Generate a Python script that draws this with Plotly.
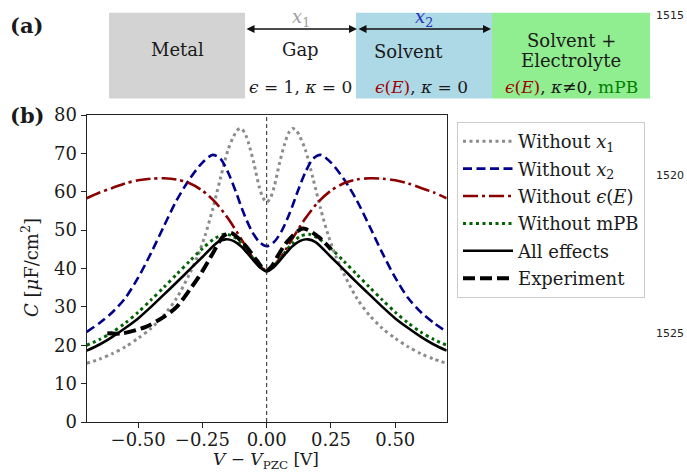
import plotly.graph_objects as go

W, H = 687, 472

# ---------------- data ----------------
v_wo_x1 = [-0.70, -0.65, -0.60, -0.55, -0.50, -0.45, -0.40, -0.35, -0.30, -0.27, -0.24, -0.21, -0.18, -0.15, -0.13, -0.115, -0.10, -0.085, -0.07, -0.05, -0.03, -0.015, 0.00,
           0.015, 0.03, 0.05, 0.07, 0.085, 0.10, 0.115, 0.13, 0.15, 0.18, 0.21, 0.24, 0.27, 0.30, 0.35, 0.40, 0.45, 0.50, 0.55, 0.60, 0.65, 0.70]
c_wo_x1 = [15.3, 16.4, 17.8, 19.6, 21.8, 24.4, 27.8, 32.3, 38.6, 43.0, 48.5, 55.5, 63.5, 71.0, 74.2, 76.0, 76.5, 75.3, 72.5, 67.5, 61.5, 58.5, 57.3,
           58.5, 61.5, 67.5, 72.5, 75.3, 76.5, 76.0, 74.2, 71.0, 63.5, 55.5, 48.5, 43.0, 38.6, 32.3, 27.8, 24.4, 21.8, 19.6, 17.8, 16.4, 15.3]

v_wo_x2 = [-0.70, -0.65, -0.60, -0.55, -0.50, -0.45, -0.40, -0.35, -0.30, -0.25, -0.21, -0.18, -0.15, -0.12, -0.09, -0.06, -0.03, 0.00,
           0.03, 0.06, 0.09, 0.12, 0.15, 0.18, 0.21, 0.25, 0.30, 0.35, 0.40, 0.45, 0.50, 0.55, 0.60, 0.65, 0.70]
c_wo_x2 = [23.5, 25.8, 28.6, 32.3, 37.6, 44.0, 51.0, 57.8, 63.3, 67.6, 69.6, 68.6, 65.0, 60.0, 54.5, 50.0, 47.0, 45.8,
           47.0, 50.0, 54.5, 60.0, 65.0, 68.6, 69.6, 67.6, 63.3, 57.8, 51.0, 44.0, 37.6, 32.3, 28.6, 25.8, 23.5]

v_wo_eps = [-0.70, -0.65, -0.60, -0.55, -0.50, -0.45, -0.40, -0.35, -0.30, -0.25, -0.20, -0.15, -0.10, -0.075, -0.05, -0.02, 0.00,
            0.02, 0.05, 0.075, 0.10, 0.15, 0.20, 0.25, 0.30, 0.35, 0.40, 0.45, 0.50, 0.55, 0.60, 0.65, 0.70]
c_wo_eps = [58.3, 59.8, 61.0, 62.2, 63.0, 63.4, 63.5, 63.2, 62.2, 60.3, 57.3, 53.0, 47.8, 45.0, 42.5, 40.2, 39.6,
            40.2, 42.5, 45.0, 47.8, 53.0, 57.3, 60.3, 62.2, 63.2, 63.5, 63.4, 63.0, 62.2, 61.0, 59.8, 58.3]

v_wo_mpb = [-0.70, -0.65, -0.60, -0.55, -0.50, -0.45, -0.40, -0.35, -0.30, -0.25, -0.20, -0.165, -0.13, -0.10, -0.075, -0.05, -0.025, 0.00,
            0.025, 0.05, 0.075, 0.10, 0.13, 0.165, 0.20, 0.25, 0.30, 0.35, 0.40, 0.45, 0.50, 0.55, 0.60, 0.65, 0.70]
c_wo_mpb = [20.0, 21.5, 23.4, 25.8, 28.6, 31.8, 35.1, 38.5, 41.9, 45.2, 47.9, 48.9, 48.4, 46.6, 44.6, 42.4, 40.5, 39.5,
            40.5, 42.4, 44.6, 46.6, 48.4, 48.9, 47.9, 45.2, 41.9, 38.5, 35.1, 31.8, 28.6, 25.8, 23.4, 21.5, 20.0]

v_all = [-0.70, -0.65, -0.60, -0.55, -0.50, -0.45, -0.40, -0.35, -0.30, -0.25, -0.19, -0.16, -0.13, -0.10, -0.075, -0.05, -0.025, 0.00,
         0.025, 0.05, 0.075, 0.10, 0.13, 0.16, 0.19, 0.25, 0.30, 0.35, 0.40, 0.45, 0.50, 0.55, 0.60, 0.65, 0.70]
c_all = [18.6, 20.2, 22.2, 24.5, 27.0, 30.0, 33.2, 36.4, 39.7, 43.0, 46.9, 47.6, 47.2, 45.8, 44.0, 42.0, 40.2, 39.2,
         40.2, 42.0, 44.0, 45.8, 47.2, 47.6, 46.9, 43.0, 39.7, 36.4, 33.2, 30.0, 27.0, 24.5, 22.2, 20.2, 18.6]

v_exp = [-0.62, -0.56, -0.47, -0.40, -0.35, -0.30, -0.25, -0.21, -0.17, -0.14, -0.09, -0.04, -0.02, 0.00, 0.02, 0.045, 0.08, 0.14, 0.20, 0.25]
c_exp = [23.1, 23.1, 24.8, 27.4, 30.0, 34.4, 39.3, 43.9, 48.3, 49.3, 46.5, 42.2, 40.4, 39.5, 40.6, 43.5, 47.0, 50.4, 48.3, 45.0]

x_ticks = [-0.5, -0.25, 0.0, 0.25, 0.5]
x_ticktext = ["\u22120.50", "\u22120.25", "0.00", "0.25", "0.50"]
y_ticks = [0, 10, 20, 30, 40, 50, 60, 70, 80]

series = [
    ("Without <i>x</i><sub>1</sub>", v_wo_x1, c_wo_x1, "#8c8c8c", 3.0, "3px,3.5px"),
    ("Without <i>x</i><sub>2</sub>", v_wo_x2, c_wo_x2, "#00008b", 2.6, "9px,4.5px"),
    ("Without <i>ϵ</i>(<i>E</i>)", v_wo_eps, c_wo_eps, "#8b0000", 2.6, "15px,4px,3px,4px"),
    ("Without mPB", v_wo_mpb, c_wo_mpb, "#006400", 3.0, "3px,3.5px"),
    ("All effects", v_all, c_all, "#000000", 2.6, "solid"),
    ("Experiment", v_exp, c_exp, "#000000", 4.0, "12px,5px"),
]

SERIF = "DejaVu Serif"

fig = go.Figure()
for i, (name, xs, ys, col, lw, dash) in enumerate(series):
    fig.add_trace(go.Scatter(
        x=xs, y=ys, mode="lines", name=name, legendgroup=f"g{i}",
        line=dict(color=col, width=lw, dash=dash, shape="spline", smoothing=0.8),
    ))

def px_x(px):
    return px / W

def px_y(py):
    return 1 - py / H

x0d, x1d = 86.7 / W, 446.7 / W
y0d, y1d = (H - 422) / H, (H - 115) / H

axis_common = dict(showgrid=False, zeroline=False, showline=True, linecolor="#222", linewidth=1.3,
                   mirror=True, ticks="outside", ticklen=5, tickwidth=1.2, tickcolor="#222",
                   tickfont=dict(family=SERIF, size=18), automargin=False)

fig.update_layout(
    width=W, height=H,
    margin=dict(l=0, r=0, t=0, b=0, autoexpand=False),
    paper_bgcolor="white", plot_bgcolor="white",
    font=dict(family=SERIF, size=18, color="#1a1a1a"),
    xaxis=dict(domain=[x0d, x1d], range=[-0.7, 0.7], tickvals=x_ticks, ticktext=x_ticktext,
               ticklabelstandoff=-4, **axis_common),
    yaxis=dict(domain=[y0d, y1d], range=[0, 80], tickvals=y_ticks, **axis_common),
    legend=dict(x=px_x(457), y=px_y(122), xanchor="left", yanchor="top",
                bgcolor="white", bordercolor="#cccccc", borderwidth=1, itemwidth=50,
                font=dict(family=SERIF, size=18), tracegroupgap=1),
    showlegend=True,
)

# vertical dashed line at V = 0
fig.add_shape(type="line", xref="x", yref="paper", x0=0, x1=0, y0=y0d, y1=y1d,
              line=dict(color="#222", width=1, dash="4px,3px"))

# panel (a) boxes
boxes = [(109, 245, "#d3d3d3"), (356, 492, "#add8e6"), (492, 650, "#90ee90")]
for a, b, col in boxes:
    fig.add_shape(type="rect", xref="paper", yref="paper",
                  x0=px_x(a), x1=px_x(b), y0=px_y(98.5), y1=px_y(12.7),
                  fillcolor=col, line=dict(width=0), layer="below")

# arrows
for a, b in [(245, 357), (357, 491)]:
    fig.add_annotation(xref="paper", yref="paper", x=px_x(b), y=px_y(29),
                       ax=-(b - a), ay=0, axref="pixel", ayref="pixel",
                       showarrow=True, arrowhead=2, startarrowhead=2, arrowside="end+start",
                       arrowwidth=1.6, arrowsize=1, startarrowsize=1, arrowcolor="#111", text="")

def txt(x, y, s, size=18, color="#1a1a1a", family=SERIF, xanchor="center"):
    fig.add_annotation(xref="paper", yref="paper", x=px_x(x), y=px_y(y), text=s,
                       showarrow=False, xanchor=xanchor, yanchor="middle",
                       font=dict(family=family, size=size, color=color))

txt(301, 18, "<i>x</i><sub>1</sub>", color="#a0a0a0")
txt(424, 18, "<i>x</i><sub>2</sub>", color="#2233bb")
txt(177, 50, "Metal")
txt(300, 50, "Gap")
txt(408, 51, "Solvent")
txt(571, 40, "Solvent +")
txt(571, 61, "Electrolyte")
txt(300, 87, "<i>ϵ</i> = 1, <i>κ</i> = 0", size=17)
txt(422, 87, "<span style='color:#a00000'><i>ϵ</i>(<i>E</i>)</span>, <i>κ</i> = 0", size=17)
txt(571, 87, "<span style='color:#a00000'><i>ϵ</i>(<i>E</i>)</span>, <i>κ</i>≠0, <span style='color:#008000'>mPB</span>", size=17)
txt(8, 26, "<b>(a)</b>", size=21, xanchor="left")
txt(8, 115, "<b>(b)</b>", size=21, xanchor="left")

# axis titles
fig.add_annotation(xref="paper", yref="paper", x=px_x(30), y=px_y(268), text="<i>C</i> [<i>μ</i>F/cm<sup>2</sup>]",
                   textangle=-90, showarrow=False, xanchor="center", yanchor="middle",
                   font=dict(family=SERIF, size=18, color="#1a1a1a"))
txt(266, 460, "<i>V</i> − <i>V</i><sub>PZC</sub> [V]", size=17)

# line numbers
for y, s in [(15, "1515"), (175, "1520"), (333, "1525")]:
    txt(670, y, s, size=11, family="DejaVu Sans", color="#222")

fig.write_html("out.html")
